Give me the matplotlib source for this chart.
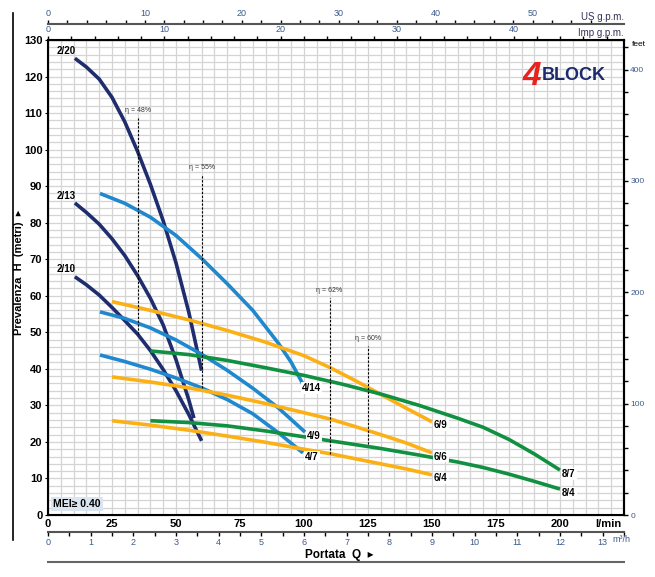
import numpy as np
import matplotlib.pyplot as plt
from matplotlib.lines import Line2D
from matplotlib.ticker import MultipleLocator

plt.rcParams['font.family'] = ['Liberation Sans', 'DejaVu Sans']

# portata Q (l/min) / prevalenza H (m)
q_2_20 = [10.5, 15, 20, 25, 30, 35, 40, 45, 50, 55, 60]
h_2_20 = [125, 122.6, 119.3, 114.3, 107.6, 99.5, 90.5, 80.5, 69, 55.5, 39.5]
q_2_13 = [10.5, 15, 20, 25, 30, 35, 40, 45, 50, 55, 57]
h_2_13 = [85.4, 82.8, 79.6, 75.6, 71, 65.5, 59.3, 52, 42.5, 31.5, 26.5]
q_2_10 = [10.5, 15, 20, 25, 30, 35, 40, 45, 50, 55, 60]
h_2_10 = [65.2, 63, 60.2, 56.8, 53.2, 49.5, 45, 39.8, 34, 27.5, 20.3]

q_4_14 = [20.3, 30, 40, 50, 60, 70, 80, 90, 95, 99.6]
h_4_14 = [88, 85.3, 81.5, 76.5, 70.2, 63.3, 56, 47, 41.8, 35.8]
q_4_9 = [20.3, 30, 40, 50, 60, 70, 80, 90, 100.4]
h_4_9 = [55.6, 53.8, 51.2, 47.9, 44, 39.6, 34.7, 29.3, 22.7]
q_4_7 = [20.3, 30, 40, 50, 60, 70, 80, 90, 99.6]
h_4_7 = [43.8, 42, 39.9, 37.5, 34.8, 31.6, 27.7, 22.5, 17]

q_6 = [25, 40, 55, 70, 85, 100, 110, 120, 130, 140, 150]
h_6_9 = [58.4, 56, 53.4, 50.5, 47.3, 43.6, 40.4, 36.8, 33, 29.2, 25.5]
h_6_6 = [37.8, 36.4, 34.8, 32.8, 30.5, 28, 26.3, 24.2, 22, 19.7, 17]
h_6_4 = [25.8, 24.6, 23.2, 21.6, 19.9, 18, 16.8, 15.4, 14, 12.6, 11]

q_8 = [40, 55, 70, 85, 100, 115, 130, 145, 160, 170, 180, 190, 200]
h_8_7 = [44.9, 43.9, 42.3, 40.3, 38.2, 35.8, 33.1, 30, 26.5, 24, 20.7, 16.7, 12.3]
h_8_4 = [25.8, 25.3, 24.4, 23, 21.4, 19.8, 18.2, 16.4, 14.5, 13, 11.2, 9.2, 7.1]

# efficiency markers
eta_labels = ['η = 48%', 'η = 55%', 'η = 62%', 'η = 60%']
eta_q = [35, 60, 110, 125]
eta_top = [108.6, 93, 59.4, 46.2]
eta_bottom = [49.5, 34.8, 16.8, 19.4]

navy = '#1f2d6e'
blue = '#1f88cf'
orange = '#fbb116'
green = '#109040'

curves = [
    (q_2_20, h_2_20, navy, '2/20', 'start'),
    (q_2_13, h_2_13, navy, '2/13', 'start'),
    (q_2_10, h_2_10, navy, '2/10', 'start'),
    (q_4_14, h_4_14, blue, '4/14', 'end'),
    (q_4_9, h_4_9, blue, '4/9', 'end'),
    (q_4_7, h_4_7, blue, '4/7', 'end'),
    (q_6, h_6_9, orange, '6/9', 'end'),
    (q_6, h_6_6, orange, '6/6', 'end'),
    (q_6, h_6_4, orange, '6/4', 'end'),
    (q_8, h_8_7, green, '8/7', 'end'),
    (q_8, h_8_4, green, '8/4', 'end'),
]

fig = plt.figure(figsize=(6.55, 5.77), dpi=100)
ax = fig.add_axes([48/655, 1-515/577, 576/655, 475/577])
ax.set_xlim(0, 225)
ax.set_ylim(0, 130)

ax.xaxis.set_minor_locator(MultipleLocator(5))
ax.yaxis.set_minor_locator(MultipleLocator(2))
ax.grid(which='both', color='#d4d4d4', lw=0.9, zorder=0)
ax.set_axisbelow(True)

ax.set_xticks(range(0, 201, 25))
ax.set_yticks(range(0, 131, 10))
ax.tick_params(axis='x', which='both', length=0, labelsize=8, pad=3)
ax.tick_params(axis='y', which='major', length=2, labelsize=8, pad=2)
ax.tick_params(axis='y', which='minor', length=0)
for t in ax.get_xticklabels() + ax.get_yticklabels():
    t.set_fontweight('bold')
for s in ax.spines.values():
    s.set_linewidth(1.5)
ax.text(219, -2.5, 'l/min', fontsize=8, fontweight='bold', ha='center', va='center', clip_on=False)

for q, h, c, name, where in curves:
    ax.plot(q, h, color=c, lw=2.6, solid_capstyle='butt', solid_joinstyle='round', zorder=3)
    if where == 'start':
        ax.text(q[0] - 3.5, h[0] + 2, name, fontsize=7, fontweight='bold', ha='center', va='center', zorder=5)
    else:
        ax.text(q[-1] + 3.5, h[-1] - 1, name, fontsize=7, fontweight='bold', ha='center', va='center', zorder=5,
                bbox=dict(facecolor='white', edgecolor='none', pad=0.6))

for lab, q, top, bot in zip(eta_labels, eta_q, eta_top, eta_bottom):
    ax.plot([q, q], [bot, top], color='black', lw=0.8, ls=(0, (2, 1.5)), zorder=4)
    ax.text(q, top + 1.2, lab, fontsize=5, color='#333333', ha='center', va='bottom')

# MEI box
ax.text(2, 3.0, 'MEI≥ 0.40', fontsize=7.5, fontweight='bold', ha='left', va='center', zorder=6,
        bbox=dict(facecolor='#dbe5ef', edgecolor='none', pad=1.5))

# logo
ax.text(189, 120.0, '4', fontsize=24, fontweight='bold', style='italic', color='#e8221d',
        ha='center', va='center', zorder=6)
ax.text(193, 120.3, 'BLOCK', fontsize=13, fontweight='heavy', color='#1d2a6b',
        ha='left', va='center', zorder=6)

# right axis in feet
ax2 = ax.twinx()
ax2.set_ylim(0, 130 / 0.3048)
ax2.set_yticks(range(0, 401, 100))
ax2.yaxis.set_minor_locator(MultipleLocator(20))
ax2.tick_params(axis='y', which='both', direction='out', length=3, width=1, labelsize=6,
                labelcolor='#3c5a8c', pad=1.5)
ax2.spines['right'].set_linewidth(1.5)
fig.text(632/655, 1-44/577, 'feet', fontsize=6, ha='left', va='center')

# top scales: Imp g.p.m. and US g.p.m.
imp = ax.secondary_xaxis('top', functions=(lambda x: x / 4.54609, lambda g: g * 4.54609))
imp.set_xticks(range(0, 41, 10))
imp.set_xticks(np.arange(0, 49, 2), minor=True)
imp.tick_params(which='both', direction='out', length=3, width=1, labelsize=6.5,
                labelcolor='#3c5a8c', pad=1)
fig.text(624/655, 1-33/577, 'Imp g.p.m.', fontsize=7, ha='right', va='center', color='#333355')

us = ax.secondary_xaxis(1 + 16/475, functions=(lambda x: x / 3.78541, lambda g: g * 3.78541))
us.set_xticks(range(0, 51, 10))
us.set_xticks(np.arange(0, 57, 2), minor=True)
us.tick_params(which='both', direction='out', length=3, width=1, labelsize=6.5,
               labelcolor='#3c5a8c', pad=1)
for s in us.spines.values():
    s.set_linewidth(1.5)
    s.set_color('#555555')
fig.text(624/655, 1-17/577, 'US g.p.m.', fontsize=7, ha='right', va='center', color='#333355')

# bottom scale m3/h
m3 = ax.secondary_xaxis(-17/475, functions=(lambda x: x * 0.06, lambda m: m / 0.06))
m3.set_xticks(range(0, 14))
m3.set_xticks(np.arange(0, 13.6, 0.5), minor=True)
m3.tick_params(which='both', direction='out', length=3, width=1, labelsize=6.5,
               labelcolor='#3c5a8c', pad=1.5)
for s in m3.spines.values():
    s.set_linewidth(1.5)
    s.set_color('#555555')
fig.text(612/655, 1-539/577, 'm³/h', fontsize=6.5, ha='left', va='center', color='#3c5a8c')

fig.text(305/655, 1-555/577, 'Portata  Q  ▸', fontsize=8.5, fontweight='bold', ha='left', va='center')
fig.add_artist(Line2D([48/655, 624/655], [1-562/577, 1-562/577], color='#666666', lw=1.5))

fig.text(19/655, 1-272/577, 'Prevalenza  H  (metri)  ▸', fontsize=8, fontweight='bold',
         rotation=90, ha='center', va='center')
fig.add_artist(Line2D([13/655, 13/655], [1-13/577, 1-540/577], color='black', lw=1.2))

fig.savefig('out.png', dpi=100)
